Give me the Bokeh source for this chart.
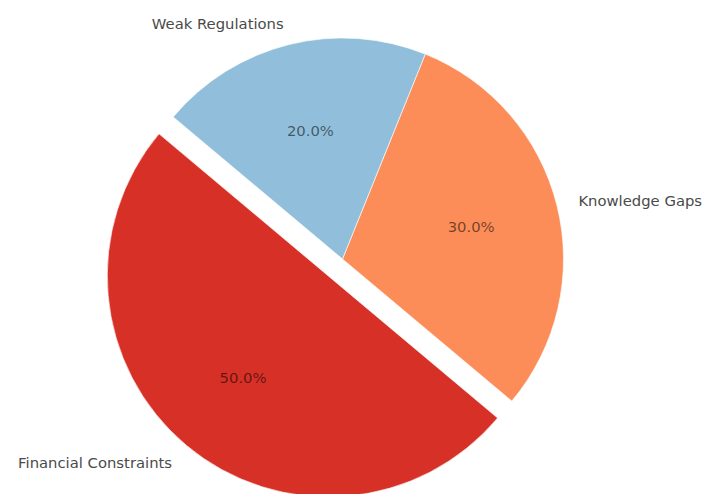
import math
from bokeh.plotting import figure
from bokeh.models import ColumnDataSource, Range1d
from bokeh.core.properties import value
from bokeh.embed import file_html
from bokeh.resources import INLINE

# ---- data ----
labels = ["Financial Constraints", "Knowledge Gaps", "Weak Regulations"]
values = [50, 30, 20]
colors = ["#d73027", "#fc8d59", "#91bfdb"]
explode = [0.1, 0.0, 0.0]

START_DEG = 140.0
R = 1.0
PX = 221.0        # pixels per unit radius
CX, CY = 342.0, 258.5  # pie centre in pixels
W, H = 704, 494

total = float(sum(values))
starts, ends, cxs, cys = [], [], [], []
lab_x, lab_y, lab_align = [], [], []
pct_x, pct_y, pct_text = [], [], []
a = math.radians(START_DEG)
for v, e in zip(values, explode):
    span = 2 * math.pi * v / total
    s, t = a, a + span
    mid = (s + t) / 2
    ox, oy = e * R * math.cos(mid), e * R * math.sin(mid)
    starts.append(s); ends.append(t)
    cxs.append(ox); cys.append(oy)
    lx = ox + 1.1 * R * math.cos(mid)
    ly = oy + 1.1 * R * math.sin(mid)
    lab_x.append(lx); lab_y.append(ly)
    lab_align.append("left" if math.cos(mid) > 0 else "right")
    pct_x.append(ox + 0.6 * R * math.cos(mid))
    pct_y.append(oy + 0.6 * R * math.sin(mid))
    pct_text.append(f"{100 * v / total:.1f}%")
    a = t

src = ColumnDataSource(dict(x=cxs, y=cys, start=starts, end=ends, color=colors,
                            lx=lab_x, ly=lab_y, label=labels, align=lab_align,
                            px=pct_x, py=pct_y, pct=pct_text))

x0 = -CX / PX
x1 = (W - CX) / PX
y1 = CY / PX
y0 = -(H - CY) / PX

p = figure(width=W, height=H, output_backend="svg", toolbar_location=None,
           x_range=Range1d(x0, x1), y_range=Range1d(y0, y1),
           min_border=0, min_border_left=0, min_border_right=0,
           min_border_top=0, min_border_bottom=0)
p.axis.visible = False
p.grid.visible = False
p.outline_line_color = None
p.background_fill_color = "white"
p.border_fill_color = "white"

p.wedge(x="x", y="y", radius=R, start_angle="start", end_angle="end",
        fill_color="color", line_color="white", line_width=0.6, source=src)

p.text(x="lx", y="ly", text="label", text_align="align", text_baseline="middle",
       text_font=value("DejaVu Sans"), text_font_size="14.8px",
       text_color="#4a4a4a", source=src)
p.text(x="px", y="py", text="pct", text_align="center", text_baseline="middle",
       text_font=value("DejaVu Sans"), text_font_size="14.8px",
       text_color="black", text_alpha=0.55, source=src)

open("out.html", "w").write(file_html(p, INLINE))
